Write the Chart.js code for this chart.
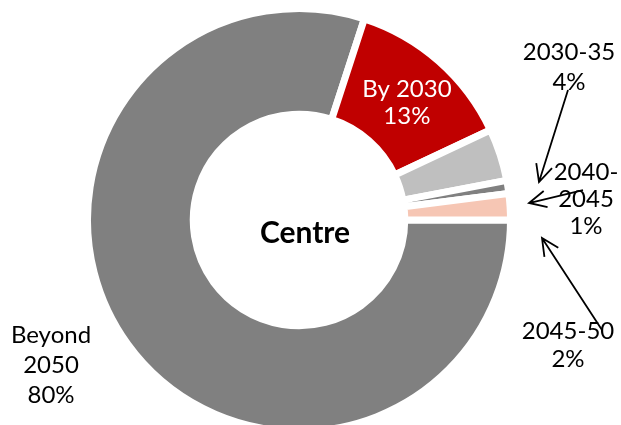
<!DOCTYPE html>
<html>
<head>
<meta charset="utf-8">
<script src="https://cdn.jsdelivr.net/npm/chart.js@4"></script>
<style>
  html, body { margin: 0; padding: 0; background: #fff; overflow: hidden; }
  #wrap { position: relative; width: 621px; height: 435px; }
</style>
</head>
<body>
<div id="wrap"><canvas id="myChart"></canvas></div>
<script>
const labels = ['Beyond 2050', 'By 2030', '2030-35', '2040-2045', '2045-50'];
const shares = [80, 13, 4, 1, 2];
const colors = ['#808080', '#C00000', '#BFBFBF', '#808080', '#F6C6B4'];

const FONT = 'Lato, "DejaVu Sans", sans-serif';

// outside labels with arrows pointing at the small slices
const notes = [
    { lines: ['2030-35', '4%'], x: 569, y: [52, 82], from: [568, 90], to: [539, 182] },
    { lines: ['2040-', '2045', '1%'], x: 586, y: [172, 199, 226], from: [583, 190], to: [529, 203] },
    { lines: ['2045-50', '2%'], x: 568, y: [331, 359], from: [602, 330], to: [542, 238] },
    { lines: ['Beyond', '2050', '80%'], x: 51, y: [335, 365, 395] }
];

function arrow(ctx, from, to) {
    const ang = Math.atan2(to[1] - from[1], to[0] - from[0]);
    const len = 19, spread = 0.45;
    ctx.beginPath();
    ctx.moveTo(from[0], from[1]);
    ctx.lineTo(to[0], to[1]);
    ctx.moveTo(to[0] - len * Math.cos(ang - spread), to[1] - len * Math.sin(ang - spread));
    ctx.lineTo(to[0], to[1]);
    ctx.lineTo(to[0] - len * Math.cos(ang + spread), to[1] - len * Math.sin(ang + spread));
    ctx.stroke();
}

const labelPlugin = {
    id: 'labelPlugin',
    afterDraw(chart) {
        const ctx = chart.ctx;
        const arcs = chart.getDatasetMeta(0).data;
        ctx.save();
        ctx.textAlign = 'center';
        ctx.textBaseline = 'middle';

        // centre text
        ctx.fillStyle = '#000';
        ctx.font = 'bold 30px ' + FONT;
        ctx.fillText('Centre', arcs[0].x + 6, arcs[0].y + 13);

        // label inside the red slice
        const p = arcs[1].tooltipPosition();
        ctx.fillStyle = '#fff';
        ctx.font = '24px ' + FONT;
        ctx.fillText('By 2030', p.x + 3, p.y - 12);
        ctx.fillText(shares[1] + '%', p.x + 3, p.y + 15);

        ctx.fillStyle = '#000';
        ctx.strokeStyle = '#000';
        ctx.lineWidth = 1.8;
        notes.forEach(n => {
            n.lines.forEach((t, i) => ctx.fillText(t, n.x, n.y[i]));
            if (n.from) arrow(ctx, n.from, n.to);
        });
        ctx.restore();
    }
};

const data = {
    labels: labels,
    datasets: [{
        data: shares,
        backgroundColor: colors,
        borderColor: '#ffffff',
        borderWidth: 7,
        borderJoinStyle: 'miter'
    }]
};

const config = {
    type: 'doughnut',
    data: data,
    options: {
        responsive: true,
        maintainAspectRatio: false,
        animation: false,
        rotation: 90,
        cutout: '50%',
        layout: { padding: { top: 5, bottom: 0, left: 0, right: 23 } },
        plugins: {
            legend: { display: false },
            tooltip: { enabled: false }
        }
    },
    plugins: [labelPlugin]
};

const myChart = new Chart(document.getElementById('myChart'), config);
</script>
</body>
</html>
